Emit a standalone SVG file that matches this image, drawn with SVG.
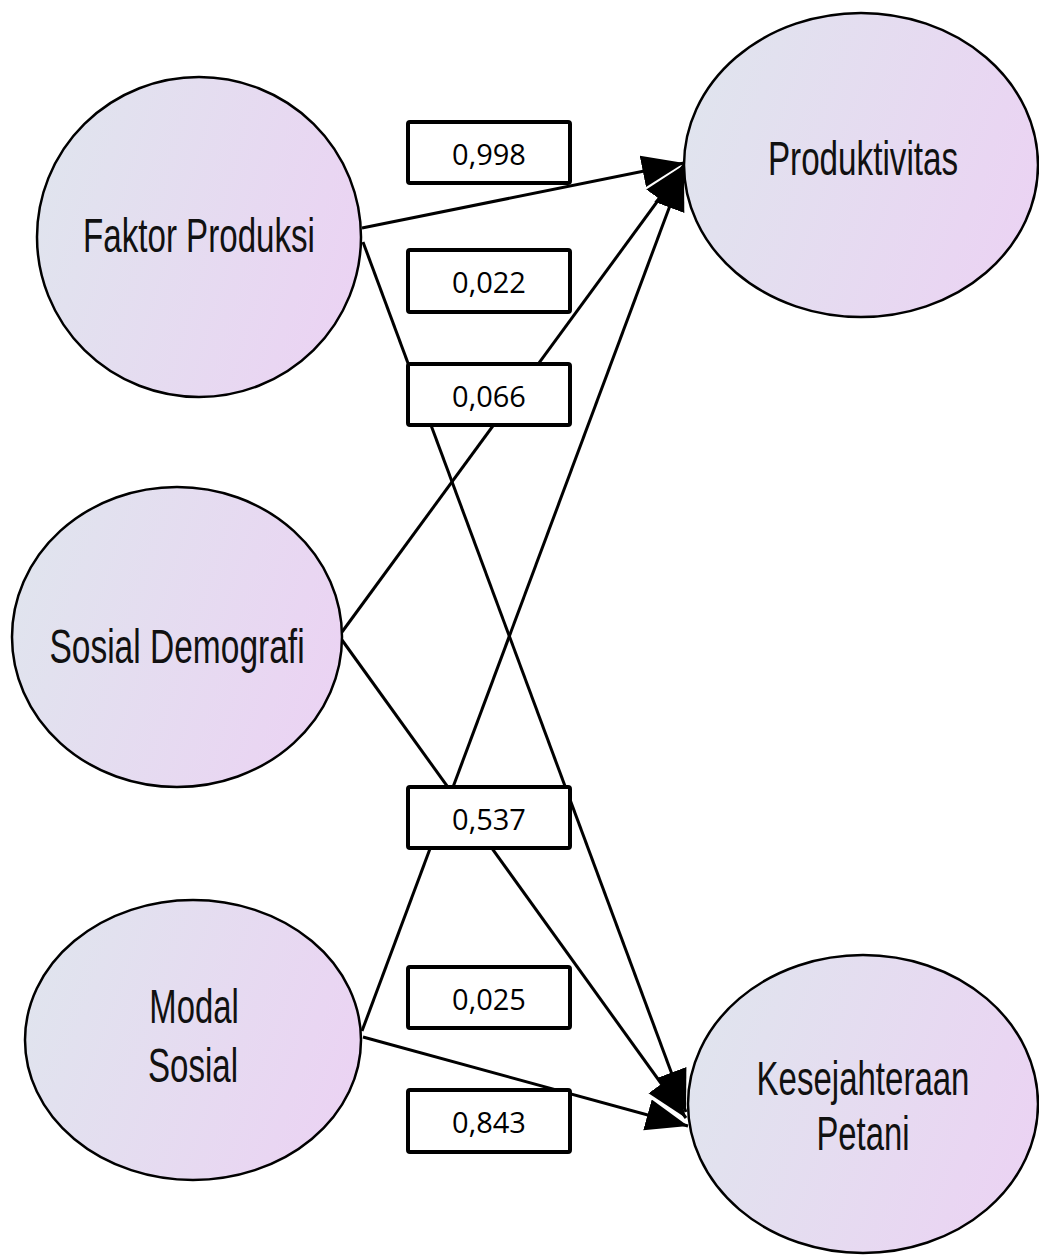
<svg xmlns="http://www.w3.org/2000/svg" width="1039" height="1255" viewBox="0 0 1039 1255">
  <defs>
    <linearGradient id="nodeFill" x1="0" y1="0.35" x2="1" y2="0.65">
      <stop offset="0" stop-color="#e0e4ee"/>
      <stop offset="1" stop-color="#ebd3f3"/>
    </linearGradient>
    <marker id="arrow" markerUnits="userSpaceOnUse" markerWidth="44" markerHeight="34" refX="42" refY="16" orient="auto" viewBox="0 0 44 34">
      <path d="M0,0 L42,16 L0,32 Z" fill="#000"/>
    </marker>
    <style>
      .node { fill: url(#nodeFill); stroke: #000; stroke-width: 2.5; }
      .ntext { font-family: "Liberation Sans", Arial, sans-serif; font-size: 49px; fill: #111; text-anchor: middle; }
      .conn { stroke: #000; stroke-width: 3; fill: none; }
      .arrowed { marker-end: url(#arrow); }
      .lbox { fill: #fff; stroke: #000; stroke-width: 4; }
      .ltext { font-family: "Open Sans", "Liberation Sans", sans-serif; font-size: 29px; fill: #000; text-anchor: middle; }
    </style>
  </defs>
  <rect width="1039" height="1255" fill="#fff"/>

  <g id="connectors">
    <line class="conn arrowed" x1="362" y1="228" x2="684" y2="163"/>
    <line class="conn arrowed" x1="363" y1="242" x2="686" y2="1112"/>
    <line class="conn arrowed" x1="342" y1="632" x2="684" y2="165"/>
    <line class="conn arrowed" x1="342" y1="640" x2="686" y2="1118"/>
    <line class="conn arrowed" x1="362" y1="1031" x2="684" y2="168"/>
    <line class="conn arrowed" x1="363" y1="1037" x2="688" y2="1126"/>
  </g>

  <g id="labels">
    <g id="label-0998">
      <rect class="lbox" x="408" y="122" width="162" height="61" rx="2"/>
      <text class="ltext" x="489" y="165">0,998</text>
    </g>
    <g id="label-0022">
      <rect class="lbox" x="408" y="250" width="162" height="62" rx="2"/>
      <text class="ltext" x="489" y="293">0,022</text>
    </g>
    <g id="label-0066">
      <rect class="lbox" x="408" y="364" width="162" height="61" rx="2"/>
      <text class="ltext" x="489" y="407">0,066</text>
    </g>
    <g id="label-0537">
      <rect class="lbox" x="408" y="787" width="162" height="61" rx="2"/>
      <text class="ltext" x="489" y="830">0,537</text>
    </g>
    <g id="label-0025">
      <rect class="lbox" x="408" y="967" width="162" height="61" rx="2"/>
      <text class="ltext" x="489" y="1010">0,025</text>
    </g>
    <g id="label-0843">
      <rect class="lbox" x="408" y="1090" width="162" height="62" rx="2"/>
      <text class="ltext" x="489" y="1133">0,843</text>
    </g>
  </g>

  <g id="node-faktor-produksi">
    <ellipse class="node" cx="199" cy="237" rx="162" ry="160"/>
    <text class="ntext" transform="translate(199,252) scale(0.676,1)">Faktor Produksi</text>
  </g>
  <g id="node-sosial-demografi">
    <ellipse class="node" cx="177" cy="637" rx="165" ry="150"/>
    <text class="ntext" transform="translate(177,663) scale(0.684,1)">Sosial Demografi</text>
  </g>
  <g id="node-modal-sosial">
    <ellipse class="node" cx="193" cy="1040" rx="168" ry="140"/>
    <text class="ntext" transform="translate(194,1023) scale(0.67,1)">Modal</text>
    <text class="ntext" transform="translate(193,1082) scale(0.675,1)">Sosial</text>
  </g>
  <g id="node-produktivitas">
    <ellipse class="node" cx="861" cy="165" rx="177" ry="152"/>
    <text class="ntext" transform="translate(863,175) scale(0.678,1)">Produktivitas</text>
  </g>
  <g id="node-kesejahteraan-petani">
    <ellipse class="node" cx="863" cy="1104" rx="175" ry="149"/>
    <text class="ntext" transform="translate(863,1095) scale(0.674,1)">Kesejahteraan</text>
    <text class="ntext" transform="translate(863,1150) scale(0.67,1)">Petani</text>
  </g>
</svg>
